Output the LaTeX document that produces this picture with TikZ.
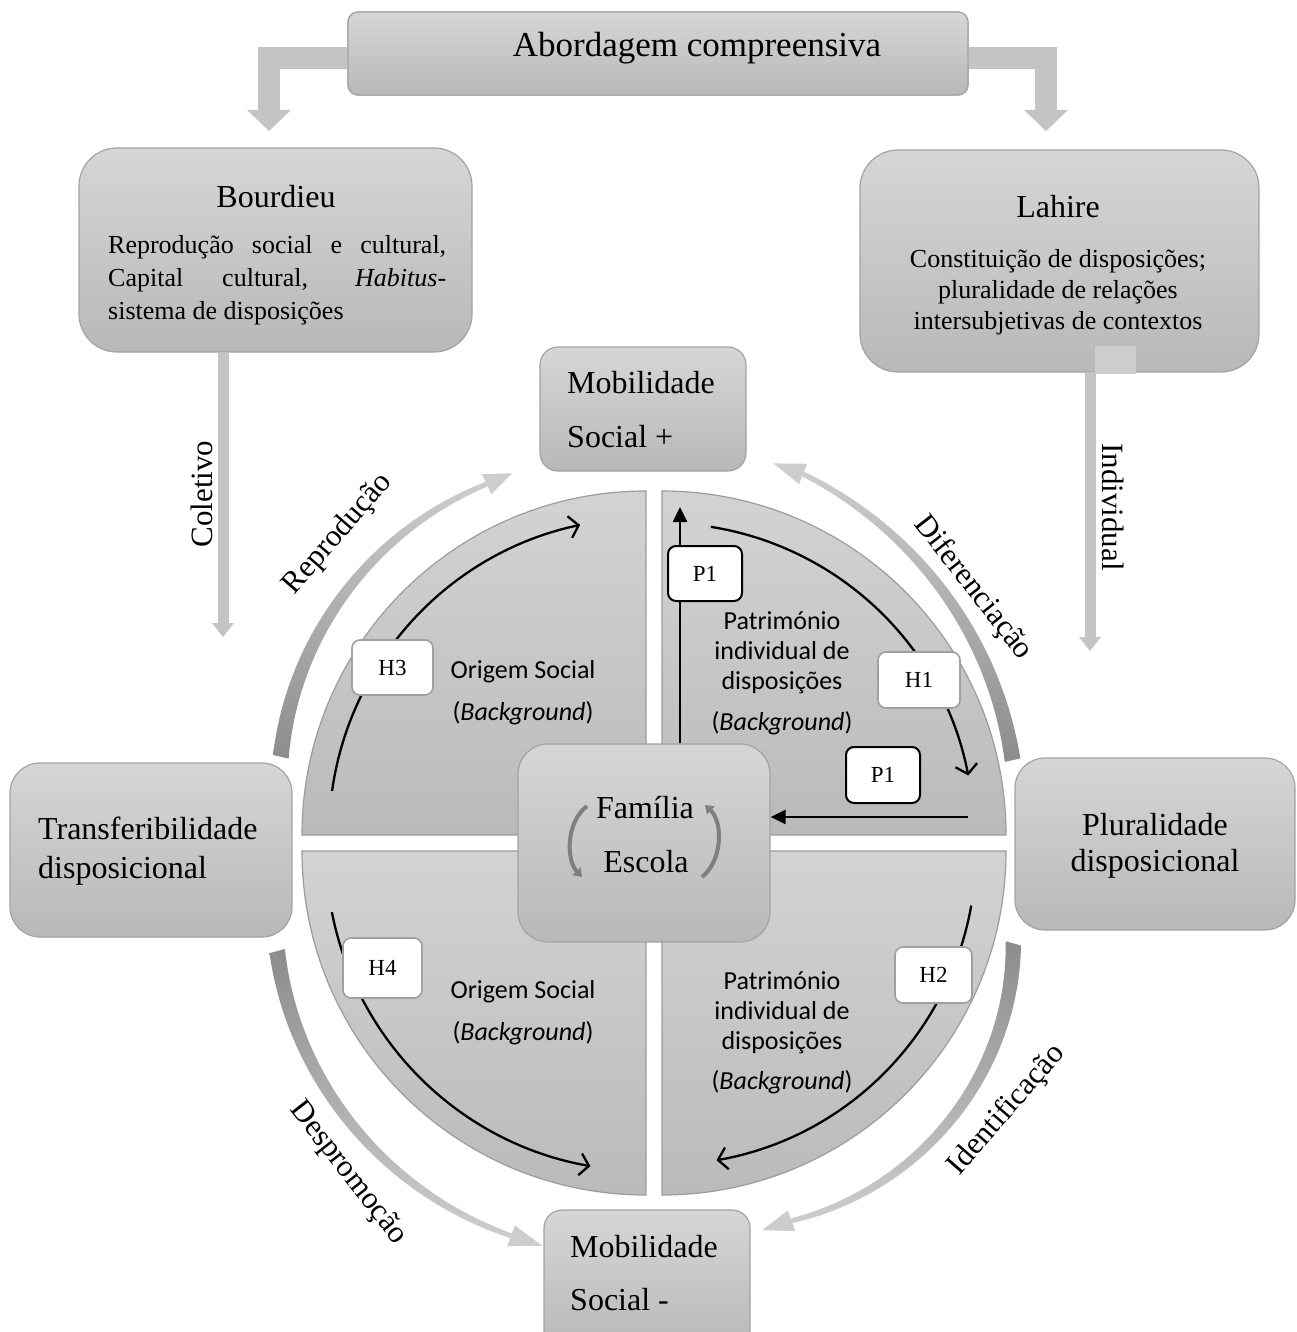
\documentclass[tikz,border=0pt]{standalone}
\usepackage{fontspec}
\setmainfont{Liberation Serif}
\newfontfamily\calib{Carlito}
\usetikzlibrary{arrows.meta,calc}
\definecolor{boxtop}{HTML}{D6D6D6}
\definecolor{boxbot}{HTML}{B8B8B8}
\definecolor{boxline}{HTML}{A3A3A3}
\definecolor{quadtop}{HTML}{D3D3D3}
\definecolor{quadbot}{HTML}{BABABA}
\definecolor{quadline}{HTML}{9C9C9C}
\definecolor{hline}{HTML}{A0A0A0}
\definecolor{blockgray}{HTML}{C4C4C4}
\definecolor{arcdark}{HTML}{8C8C8C}
\definecolor{arclight}{HTML}{CDCDCD}
\definecolor{brgray}{HTML}{7F7F7F}
\newcommand\fs[2]{\fontsize{#1}{#2}\selectfont}
% tapered curved arrow around centre (654,843)
% #1 start angle, #2 end angle of body, #3 r start, #4 r end, #5 bulge, #6 w start, #7 w end, #8 shading, #9 tip angle
\newcommand\garrow[9]{%
  \shade[#8] plot[domain=0:1,samples=50,variable=\t]
    ({654+(#3+(#4-#3)*\t+4*#5*\t*(1-\t)+(#6+(#7-#6)*\t)/2)*cos(#1+(#2-#1)*\t)},
     {843-(#3+(#4-#3)*\t+4*#5*\t*(1-\t)+(#6+(#7-#6)*\t)/2)*sin(#1+(#2-#1)*\t)})
    -- plot[domain=1:0,samples=50,variable=\t]
    ({654+(#3+(#4-#3)*\t+4*#5*\t*(1-\t)-(#6+(#7-#6)*\t)/2)*cos(#1+(#2-#1)*\t)},
     {843-(#3+(#4-#3)*\t+4*#5*\t*(1-\t)-(#6+(#7-#6)*\t)/2)*sin(#1+(#2-#1)*\t)})
    -- cycle;
  \fill[arclight] ({654+(#4+11)*cos(#2)},{843-(#4+11)*sin(#2)})
    -- ({654+#4*cos(#9)},{843-#4*sin(#9)})
    -- ({654+(#4-11)*cos(#2)},{843-(#4-11)*sin(#2)}) -- cycle;
}
\begin{document}
\begin{tikzpicture}[x=1pt,y=-1pt,
  box/.style={draw=boxline, line width=1.2pt, top color=boxtop, bottom color=boxbot, inner sep=0pt},
  quad/.style={draw=quadline, line width=1.2pt, top color=quadtop, bottom color=quadbot},
  hbox/.style={draw=hline, line width=1.6pt, fill=white, rounded corners=8pt, minimum width=80pt, minimum height=56pt, inner sep=0pt, font=\fs{23}{27}},
  pbox/.style={draw=black, line width=2pt, fill=white, rounded corners=8pt, minimum width=74pt, minimum height=56pt, inner sep=0pt, font=\fs{23}{27}},
  inarc/.style={line width=2.3pt, -{Straight Barb[length=9pt,width=22pt]}},
  blackarr/.style={line width=2.6pt, -{Triangle[length=15pt,width=14pt]}},
  brarr/.style={brgray, line width=4pt, -{Triangle[length=8pt,width=11pt]}},
  lbl/.style={font=\fs{31}{35}, inner sep=0pt},
  ttl/.style={font=\fs{32}{38}, inner sep=0pt},
  cal/.style={font=\calib\fs{26}{30}, inner sep=0pt, align=center},
  blk/.style={fill=blockgray, draw=none}
]
\useasboundingbox (0,0) rectangle (1297,1332);
\clip (0,0) rectangle (1297,1332);
\fill[white] (0,0) rectangle (1297,1332);

% ---------- top box and elbow arrows ----------
\node[box, rounded corners=10pt, minimum width=620pt, minimum height=83pt] (abord) at (658,53.5) {};
\coordinate (tipL) at (269,131);
\coordinate (tipR) at (1046,131);
\draw[blockgray, line width=22pt] ([yshift=-4.5pt]abord.west) -| ([yshift=19pt]tipL);
\fill[blk] ([shift={(-22pt,21pt)}]tipL) -- ([shift={(22pt,21pt)}]tipL) -- (tipL) -- cycle;
\draw[blockgray, line width=22pt] ([yshift=-4.5pt]abord.east) -| ([yshift=19pt]tipR);
\fill[blk] ([shift={(-22pt,21pt)}]tipR) -- ([shift={(22pt,21pt)}]tipR) -- (tipR) -- cycle;
\node[box, rounded corners=10pt, minimum width=620pt, minimum height=83pt] at (658,53.5) {};
\node[font=\fs{35}{40}, inner sep=0pt] (abordt) at (697,48) {Abordagem compreensiva};

% ---------- Bourdieu / Lahire ----------
\node[box, rounded corners=38pt, minimum width=393pt, minimum height=204pt] (bour) at (275.5,250) {};
\node[ttl] (bourt) at (276,197) {Bourdieu};
\node[font=\fs{26}{33}, align=left, anchor=west, inner sep=0pt] (bourb) at (108,280)
  {\makebox[338pt][s]{Reprodução social e cultural,}\\
   \makebox[338pt][s]{Capital cultural, \textit{Habitus}-}\\
   sistema de disposições};

\node[box, rounded corners=38pt, minimum width=399pt, minimum height=222pt] (lah) at (1059.5,261) {};
\node[ttl] (laht) at (1058,207) {Lahire};
\node[font=\fs{26}{31}, align=center, inner sep=0pt] (lahb) at (1058,292)
  {Constituição de disposições;\\pluralidade de relações\\intersubjetivas de contextos};
\fill[blockgray!85!white] (1095,346) rectangle (1136,374);

% down arrows
\coordinate (tipC) at (223,637);
\coordinate (tipI) at (1090,651);
\draw[blockgray, line width=11pt] (bour.south -| tipC) -- ([yshift=13pt]tipC);
\fill[blk] ([shift={(-11pt,14pt)}]tipC) -- ([shift={(11pt,14pt)}]tipC) -- (tipC) -- cycle;
\draw[blockgray, line width=11pt] (lah.south -| tipI) -- ([yshift=13pt]tipI);
\fill[blk] ([shift={(-11pt,14pt)}]tipI) -- ([shift={(11pt,14pt)}]tipI) -- (tipI) -- cycle;
\node[lbl, rotate=90] (colet) at (202,494) {Coletivo};
\node[lbl, rotate=-90] (indiv) at (1113,507) {Individual};

% ---------- quadrants ----------
\path[quad] (646,835) -- (302,835) arc[start angle=180,end angle=90,radius=344pt] -- cycle;
\path[quad] (662,835) -- (1006,835) arc[start angle=0,end angle=90,radius=344pt] -- cycle;
\path[quad] (646,851) -- (302,851) arc[start angle=180,end angle=270,radius=344pt] -- cycle;
\path[quad] (662,851) -- (1006,851) arc[start angle=0,end angle=-90,radius=344pt] -- cycle;

% inner arcs
\draw[inarc] ({646+317*cos(172)},{835-317*sin(172)}) arc[start angle=172,end angle=102,radius=317pt];
\draw[inarc] ({662+312*cos(81)},{835-312*sin(81)}) arc[start angle=81,end angle=11,radius=312pt];
\draw[inarc] ({646+320*cos(191)},{851-320*sin(191)}) arc[start angle=191,end angle=260,radius=320pt];
\draw[inarc] ({662+314*cos(-10)},{851-314*sin(-10)}) arc[start angle=-10,end angle=-80,radius=314pt];

% quadrant texts
\node[cal] (os1) at (523,672) {Origem Social};
\node[cal] (bg1) at (523,713) {(\textit{Background})};
\node[cal] (os2) at (523,992) {Origem Social};
\node[cal] (bg2) at (523,1033) {(\textit{Background})};
\node[cal] (pt1) at (782,653) {Património\\individual de\\disposições};
\node[cal] (bg3) at (782,723) {(\textit{Background})};
\node[cal] (pt2) at (782,1013) {Património\\individual de\\disposições};
\node[cal] (bg4) at (782,1082) {(\textit{Background})};

% ---------- centre box ----------
\node[box, rounded corners=30pt, minimum width=252pt, minimum height=198pt] (fam) at (644,843) {};
\node[ttl] (famt) at (645,808) {Família};
\node[ttl] (esct) at (646,862) {Escola};
\draw[brarr] (587,806) .. controls (566,822) and (566,860) .. (582,877);
\draw[brarr] (702,877) .. controls (723,860) and (723,822) .. (705,805);

% black straight arrows
\coordinate (upTip) at (680,507);
\coordinate (hStart) at (968,817);
\draw[blackarr] (fam.north -| upTip) -- (upTip);
\draw[blackarr] (hStart) -- (fam.east |- hStart);

% H / P boxes
\node[hbox, minimum width=81pt, minimum height=55pt] (h3) at (392.5,667.5) {H3};
\node[hbox, minimum width=82pt] (h1) at (919,680) {H1};
\node[hbox, minimum width=79pt, minimum height=60pt] (h4) at (382.5,968) {H4};
\node[hbox, minimum width=77pt] (h2) at (933.5,975) {H2};
\node[pbox, minimum height=55pt] (p1a) at (705,573.5) {P1};
\node[pbox] (p1b) at (883,775) {P1};

% ---------- side boxes ----------
\node[box, rounded corners=18pt, minimum width=206pt, minimum height=124pt] (mobp) at (643,409) {};
\node[ttl, anchor=west] (mobp1) at (567,383) {Mobilidade};
\node[ttl, anchor=west] (mobp2) at (567,437) {Social +};

\node[box, rounded corners=30pt, minimum width=282pt, minimum height=174pt] (transf) at (151,850) {};
\node[ttl, anchor=west, align=left, font=\fs{32}{39}] (transft) at (38,851) {Transferibilidade\\disposicional};

\node[box, rounded corners=30pt, minimum width=280pt, minimum height=172pt] (plur) at (1155,844) {};
\node[ttl, align=center, font=\fs{32}{36}] (plurt) at (1155,846) {Pluralidade\\disposicional};

\node[box, rounded corners=18pt, minimum width=206pt, minimum height=140pt] (mobm) at (647,1280) {};
\node[ttl, anchor=west] (mobm1) at (570,1247) {Mobilidade};
\node[ttl, anchor=west] (mobm2) at (570,1300) {Social -};

% ---------- outer curved gray arrows ----------
\garrow{167}{115}{383}{396}{8}{16}{5}{top color=arclight, bottom color=arcdark}{111}
\garrow{13}{68}{368}{398}{0}{16}{5}{top color=arclight, bottom color=arcdark}{72.5}
\garrow{196}{250}{392}{418}{8}{16}{5}{top color=arcdark, bottom color=arclight}{254.5}
\garrow{-15.6}{-70}{373}{402}{18}{16}{5}{top color=arcdark, bottom color=arclight}{-74.4}

\node[lbl, rotate=49] (repr) at (338,534) {Reprodução};
\node[lbl, rotate=-52] (dife) at (973,588) {Diferenciação};
\node[lbl, rotate=-52] (desp) at (348,1173) {Despromoção};
\node[lbl, rotate=49] (iden) at (1007,1110) {Identificação};
\end{tikzpicture}
\end{document}
